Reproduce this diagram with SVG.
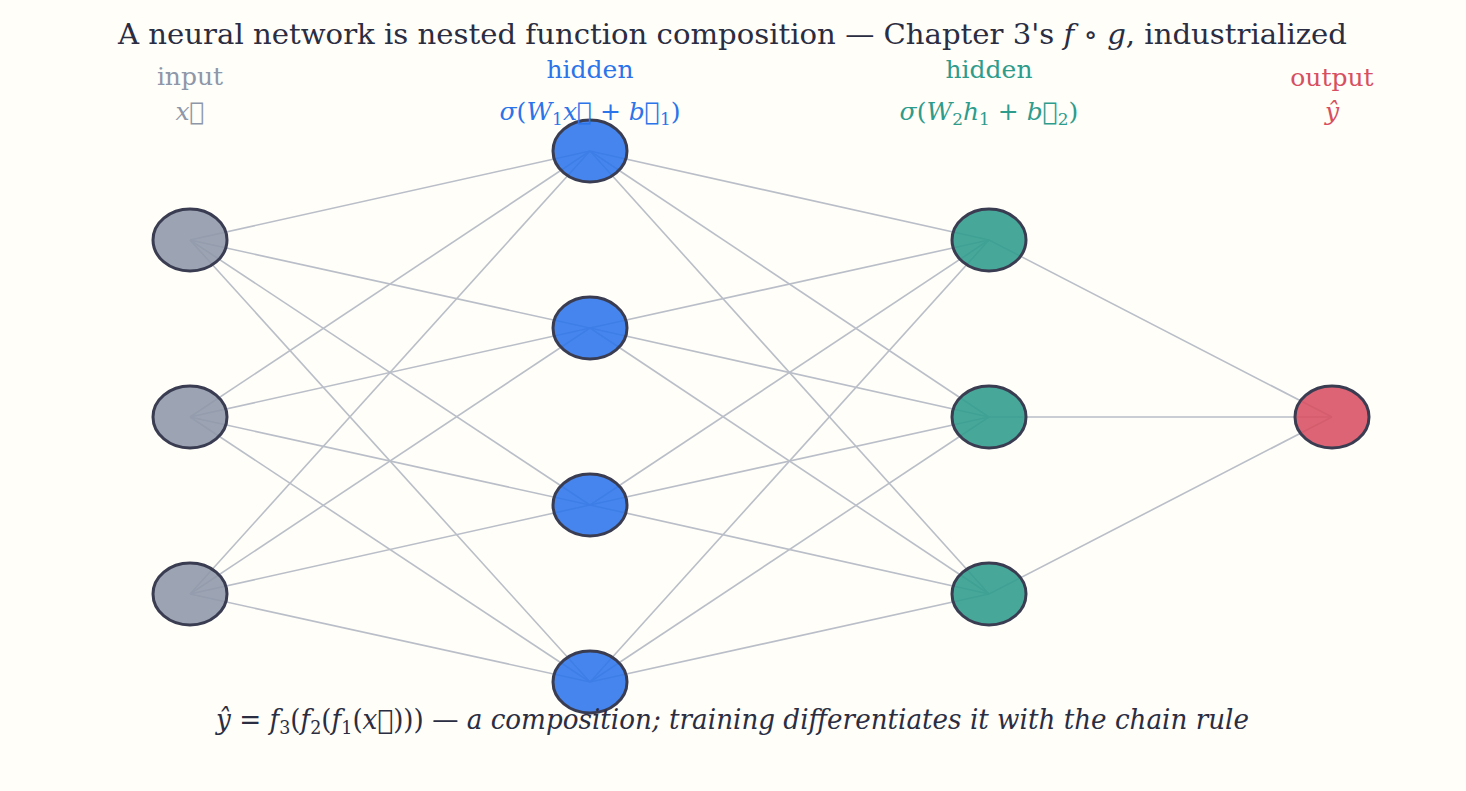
<svg xmlns="http://www.w3.org/2000/svg" width="1466" height="791" viewBox="0 0 1466 791">
<style>
text{font-family:"DejaVu Serif",serif}
.e line{stroke:#b9bec8;stroke-width:1.6}
.n{stroke:#3a3d52;stroke-width:3;fill-opacity:0.88}
.in{fill:#8e97a9}.h1{fill:#2b74ea}.h2{fill:#2e9c8c}.out{fill:#d74f61}
.lab{font-size:25px;text-anchor:middle}
.m{font-style:italic}
</style>
<rect width="1466" height="791" fill="#fffef8"/>
<text x="118" y="44" font-size="28" textLength="1229" lengthAdjust="spacingAndGlyphs" fill="#2b2d42">A neural network is nested function composition — Chapter 3's <tspan class="m">f</tspan> ∘ <tspan class="m">g</tspan>, industrialized</text>
<g class="e">
<line x1="190" y1="240" x2="590" y2="151"/><line x1="190" y1="240" x2="590" y2="328"/><line x1="190" y1="240" x2="590" y2="505"/><line x1="190" y1="240" x2="590" y2="682"/>
<line x1="190" y1="417" x2="590" y2="151"/><line x1="190" y1="417" x2="590" y2="328"/><line x1="190" y1="417" x2="590" y2="505"/><line x1="190" y1="417" x2="590" y2="682"/>
<line x1="190" y1="594" x2="590" y2="151"/><line x1="190" y1="594" x2="590" y2="328"/><line x1="190" y1="594" x2="590" y2="505"/><line x1="190" y1="594" x2="590" y2="682"/>
<line x1="590" y1="151" x2="989" y2="240"/><line x1="590" y1="151" x2="989" y2="417"/><line x1="590" y1="151" x2="989" y2="594"/>
<line x1="590" y1="328" x2="989" y2="240"/><line x1="590" y1="328" x2="989" y2="417"/><line x1="590" y1="328" x2="989" y2="594"/>
<line x1="590" y1="505" x2="989" y2="240"/><line x1="590" y1="505" x2="989" y2="417"/><line x1="590" y1="505" x2="989" y2="594"/>
<line x1="590" y1="682" x2="989" y2="240"/><line x1="590" y1="682" x2="989" y2="417"/><line x1="590" y1="682" x2="989" y2="594"/>
<line x1="989" y1="240" x2="1332" y2="417"/><line x1="989" y1="417" x2="1332" y2="417"/><line x1="989" y1="594" x2="1332" y2="417"/>
</g>
<g id="in1"><ellipse class="n in" cx="190" cy="240" rx="37" ry="31"/></g>
<g id="in2"><ellipse class="n in" cx="190" cy="417" rx="37" ry="31"/></g>
<g id="in3"><ellipse class="n in" cx="190" cy="594" rx="37" ry="31"/></g>
<g id="h11"><ellipse class="n h1" cx="590" cy="151" rx="37" ry="31"/></g>
<g id="h12"><ellipse class="n h1" cx="590" cy="328" rx="37" ry="31"/></g>
<g id="h13"><ellipse class="n h1" cx="590" cy="505" rx="37" ry="31"/></g>
<g id="h14"><ellipse class="n h1" cx="590" cy="682" rx="37" ry="31"/></g>
<g id="h21"><ellipse class="n h2" cx="989" cy="240" rx="37" ry="31"/></g>
<g id="h22"><ellipse class="n h2" cx="989" cy="417" rx="37" ry="31"/></g>
<g id="h23"><ellipse class="n h2" cx="989" cy="594" rx="37" ry="31"/></g>
<g id="out"><ellipse class="n out" cx="1332" cy="417" rx="37" ry="31"/></g>
<g id="labels">
<text class="lab" x="190" y="85" fill="#8e97a9">input</text>
<text class="lab m" x="190" y="120" fill="#8e97a9">x⃗</text>
<text class="lab" x="590" y="78" fill="#2b74ea">hidden</text>
<text class="lab" x="590" y="120" fill="#2b74ea"><tspan class="m">σ</tspan>(<tspan class="m">W</tspan><tspan font-size="17" dy="5">1</tspan><tspan class="m" dy="-5">x⃗</tspan> + <tspan class="m">b⃗</tspan><tspan font-size="17" dy="5">1</tspan><tspan dy="-5">)</tspan></text>
<text class="lab" x="989" y="78" fill="#2e9c8c">hidden</text>
<text class="lab" x="989" y="120" fill="#2e9c8c"><tspan class="m">σ</tspan>(<tspan class="m">W</tspan><tspan font-size="17" dy="5">2</tspan><tspan class="m" dy="-5">h</tspan><tspan font-size="17" dy="5">1</tspan><tspan dy="-5"> + </tspan><tspan class="m">b⃗</tspan><tspan font-size="17" dy="5">2</tspan><tspan dy="-5">)</tspan></text>
<text class="lab" x="1332" y="86" fill="#d74f61">output</text>
<text class="lab m" x="1332" y="120" fill="#d74f61">ŷ</text>
<text x="216" y="729" font-size="27" textLength="1033" lengthAdjust="spacingAndGlyphs" fill="#2b2d42"><tspan class="m">ŷ</tspan> = <tspan class="m">f</tspan><tspan font-size="18" dy="5">3</tspan><tspan dy="-5">(</tspan><tspan class="m">f</tspan><tspan font-size="18" dy="5">2</tspan><tspan dy="-5">(</tspan><tspan class="m">f</tspan><tspan font-size="18" dy="5">1</tspan><tspan dy="-5">(</tspan><tspan class="m">x⃗</tspan>))) — <tspan class="m">a composition; training differentiates it with the chain rule</tspan></text>
</g>
</svg>
